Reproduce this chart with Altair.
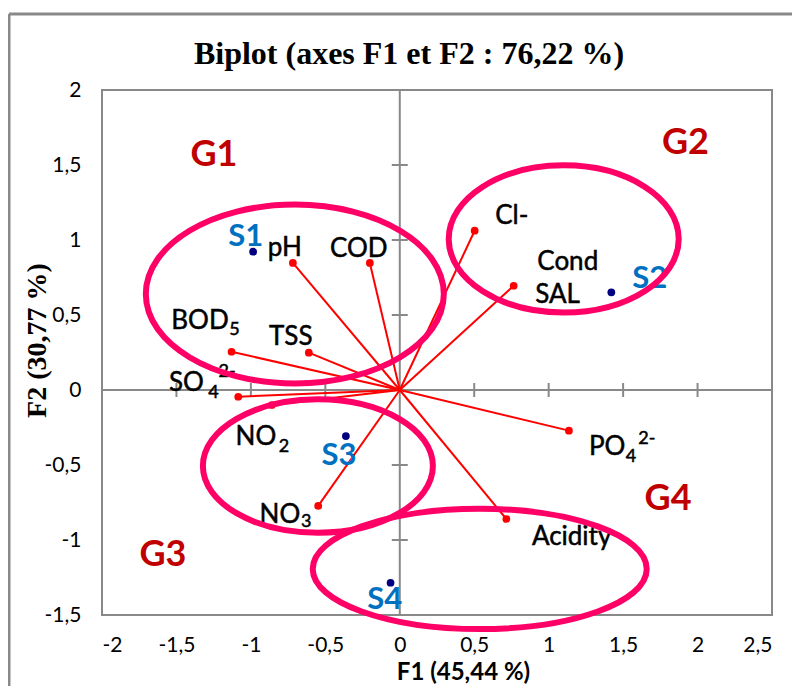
import altair as alt
import pandas as pd

# ---- data ----
var_names = ["pH", "COD", "BOD5", "TSS", "SO4", "NO2", "NO3", "Cl-", "Cond/SAL", "PO4", "Acidity"]
var_f1 = [-0.718, -0.201, -1.130, -0.611, -1.085, -0.859, -0.548, 0.503, 0.765, 1.136, 0.716]
var_f2 = [0.847, 0.847, 0.255, 0.249, -0.045, -0.100, -0.773, 1.062, 0.695, -0.271, -0.860]

# main label text and its anchor (data units)
var_labels = ["pH", "COD", "BOD", "TSS", "SO", "NO", "NO", "Cl-", "Cond", "SAL", "PO", "Acidity"]
var_label_f1 = [-0.772, -0.275, -1.342, -0.732, -1.433, -0.966, -0.805, 0.752, 1.128, 1.06, 1.393, 1.154]
var_label_f2 = [0.947, 0.94, 0.46, 0.353, 0.047, -0.313, -0.833, 1.16, 0.853, 0.633, -0.383, -0.98]

# subscripts / superscripts of the chemical labels
sub_labels = ["5", "4", "2", "3", "4"]
sub_f1 = [-1.110, -1.252, -0.777, -0.628, 1.552]
sub_f2 = [0.40, -0.02, -0.38, -0.88, -0.447]
sup_labels = ["2-", "2-"]
sup_f1 = [-1.160, 1.660]
sup_f2 = [0.12, -0.327]

site_names = ["S1", "S2", "S3", "S4"]
site_f1 = [-0.985, 1.421, -0.362, -0.062]
site_f2 = [0.922, 0.651, -0.307, -1.285]
site_label_f1 = [-1.034, 1.678, -0.409, -0.101]
site_label_f2 = [1.017, 0.74, -0.44, -1.4]

group_names = ["G1", "G2", "G3", "G4"]
group_label_f1 = [-1.248, 1.919, -1.591, 1.802]
group_label_f2 = [1.567, 1.647, -1.1, -0.727]
ell_f1 = [-0.705, 1.101, -0.550, 0.537]
ell_f2 = [0.64, 1.007, -0.507, -1.193]
ell_rx_px = [149, 115, 115, 167]
ell_ratio = [0.60, 0.64, 0.58, 0.36]

x_ticks = [-2, -1.5, -1, -0.5, 0, 0.5, 1, 1.5, 2, 2.5]
y_ticks = [-1.5, -1, -0.5, 0, 0.5, 1, 1.5, 2]
x_inner_ticks = [-1.5, -1, -0.5, 0.5, 1, 1.5, 2]
y_inner_ticks = [-1, -0.5, 0.5, 1, 1.5]

# ---- encodings ----
W, H = 670, 525
xscale = alt.Scale(domain=[-2, 2.5], nice=False, zero=False)
yscale = alt.Scale(domain=[-1.5, 2], nice=False, zero=False)
lab_expr = "replace(toString(datum.value), '.', ',')"
xaxis = alt.Axis(values=x_ticks, labelExpr=lab_expr, domain=False, ticks=False, grid=False,
                 labelFont="Lato", labelFontSize=21, labelColor="black", labelPadding=19,
                 title="F1 (45,44 %)", titleFont="Lato", titleFontSize=24, titleFontWeight="bold",
                 titleColor="black", titleX=361, titleY=57, titleAlign="center", titleBaseline="middle")
yaxis = alt.Axis(values=y_ticks, labelExpr=lab_expr, domain=False, ticks=False, grid=False,
                 labelFont="Lato", labelFontSize=21, labelColor="black", labelPadding=21,
                 title="F2 (30,77 %)", titleFont="Liberation Serif", titleFontSize=28,
                 titleFontWeight="bold", titleColor="black", titleX=-65, titleY=250,
                 titleAngle=270, titleAlign="center", titleBaseline="middle")
X = alt.X("f1:Q", scale=xscale, axis=xaxis)
Y = alt.Y("f2:Q", scale=yscale, axis=yaxis)

vars_df = pd.DataFrame({"name": var_names, "f1": var_f1, "f2": var_f2})
vlab_df = pd.DataFrame({"label": var_labels, "f1": var_label_f1, "f2": var_label_f2})
sub_df = pd.DataFrame({"label": sub_labels, "f1": sub_f1, "f2": sub_f2})
sup_df = pd.DataFrame({"label": sup_labels, "f1": sup_f1, "f2": sup_f2})
site_df = pd.DataFrame({"name": site_names, "f1": site_f1, "f2": site_f2})
slab_df = pd.DataFrame({"label": site_names, "f1": site_label_f1, "f2": site_label_f2})
glab_df = pd.DataFrame({"label": group_names, "f1": group_label_f1, "f2": group_label_f2})

gray = "#898989"

zero_v = alt.Chart(pd.DataFrame({"f1": [0]})).mark_rule(color=gray, strokeWidth=2).encode(x=X)
zero_h = alt.Chart(pd.DataFrame({"f2": [0]})).mark_rule(color=gray, strokeWidth=2).encode(y=Y)
ticks_x = alt.Chart(pd.DataFrame({"f1": x_inner_ticks, "f2": [0] * len(x_inner_ticks)})).mark_tick(
    orient="vertical", size=14, thickness=2, color=gray, opacity=1).encode(x=X, y=Y)
ticks_y = alt.Chart(pd.DataFrame({"f1": [0] * len(y_inner_ticks), "f2": y_inner_ticks})).mark_tick(
    orient="horizontal", size=16, thickness=2, color=gray, opacity=1).encode(x=X, y=Y)

vectors = alt.Chart(vars_df).mark_rule(color="#FF0000", strokeWidth=2).encode(
    x=X, y=Y, x2=alt.datum(0), y2=alt.datum(0))
var_pts = alt.Chart(vars_df).mark_circle(color="#FF0000", size=60, opacity=1).encode(x=X, y=Y)
site_pts = alt.Chart(site_df).mark_circle(color="#000080", size=60, opacity=1).encode(x=X, y=Y)

txt_style = dict(font="Lato", color="black", stroke="black", strokeWidth=0.5,
                 align="center", baseline="middle")
var_text = alt.Chart(vlab_df).mark_text(fontSize=26, **txt_style).encode(x=X, y=Y, text="label:N")
sub_text = alt.Chart(sub_df).mark_text(fontSize=18, **txt_style).encode(x=X, y=Y, text="label:N")
sup_text = alt.Chart(sup_df).mark_text(fontSize=18, **txt_style).encode(x=X, y=Y, text="label:N")
site_text = alt.Chart(slab_df).mark_text(font="Lato", fontSize=31, fontWeight="bold", color="#0070C0",
                                         align="center", baseline="middle").encode(x=X, y=Y, text="label:N")
group_text = alt.Chart(glab_df).mark_text(font="Lato", fontSize=36, fontWeight="bold", color="#C00000",
                                          align="center", baseline="middle").encode(x=X, y=Y, text="label:N")

ellipses = []
for i in range(len(group_names)):
    r = ell_ratio[i]
    path = f"M-1,0A1,{r} 0 1,1 1,0A1,{r} 0 1,1 -1,0Z"
    df = pd.DataFrame({"f1": [ell_f1[i]], "f2": [ell_f2[i]]})
    ellipses.append(alt.Chart(df).mark_point(shape=path, size=(2 * ell_rx_px[i]) ** 2, filled=False,
                                             stroke="#FF0066", strokeWidth=6, opacity=1).encode(x=X, y=Y))

one = pd.DataFrame({"a": [0]})
frame_left = alt.Chart(one).mark_rule(color=gray, strokeWidth=3).encode(
    x=alt.value(-93), y=alt.value(-76), y2=alt.value(620))
frame_top = alt.Chart(one).mark_rule(color=gray, strokeWidth=3).encode(
    x=alt.value(-93), x2=alt.value(700), y=alt.value(-76))
title = alt.Chart(pd.DataFrame({"t": ["Biplot (axes F1 et F2 : 76,22 %)"]})).mark_text(
    font="Liberation Serif", fontSize=32, fontWeight="bold", color="black",
    align="center", baseline="middle").encode(x=alt.value(307), y=alt.value(-36), text="t:N")

chart = alt.layer(
    zero_v, zero_h, ticks_x, ticks_y, vectors, var_pts, site_pts, var_text, sub_text, sup_text,
    site_text, *ellipses, group_text, frame_left, frame_top, title
).properties(
    width=W, height=H,
    autosize=alt.AutoSizeParams(type="none"),
    padding={"left": 94, "top": 82, "right": 20, "bottom": 71},
).configure_view(stroke=gray, strokeWidth=2)

chart.save("out.html", embed_options={"renderer": "svg", "actions": False})
